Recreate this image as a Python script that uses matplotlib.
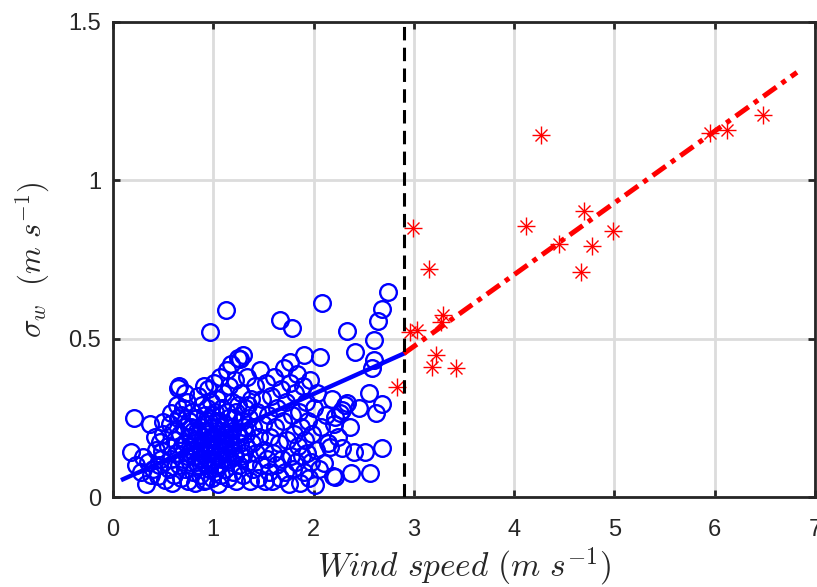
import numpy as np
import matplotlib
matplotlib.use("Agg")
import matplotlib.pyplot as plt

plt.rcParams['mathtext.fontset'] = 'cm'
plt.rcParams['font.family'] = ['Liberation Sans', 'DejaVu Sans']

# blue circles: wind speed below threshold (m/s), sigma_w (m/s)
low_wind = [
    0.18, 0.21, 0.23, 0.30, 0.33, 0.35, 0.37, 0.40, 0.43, 0.45, 0.47, 0.48, 0.50, 0.50, 0.52, 0.42, 0.38, 0.28, 0.46, 0.49,
    0.55, 0.56, 0.58, 0.58, 0.60, 0.61, 0.62, 0.63, 0.65, 0.66, 0.65, 0.66, 0.67, 0.68, 0.69, 0.70, 0.70, 0.71, 0.72, 0.73,
    0.74, 0.74, 0.75, 0.76, 0.77, 0.77, 0.78, 0.79, 0.80, 0.80, 0.57, 0.64, 0.59, 0.72, 0.68,
    0.815, 0.82, 0.83, 0.84, 0.85, 0.85, 0.86, 0.87, 0.88, 0.88, 0.89, 0.90, 0.90, 0.91, 0.92, 0.92, 0.93, 0.93, 0.94, 0.95,
    0.95, 0.96, 0.96, 0.97, 0.97, 0.98, 0.98, 0.99, 1.00, 1.00, 1.01, 1.01, 1.02, 1.02, 1.03, 1.04, 1.04, 1.05, 1.05, 1.06,
    1.06, 1.07, 1.07, 1.08, 1.08, 1.09, 1.09, 1.10, 1.10, 0.84, 0.91, 0.99, 1.03, 0.87, 0.94,
    1.11, 1.12, 1.13, 1.13, 1.14, 1.14, 1.15, 1.16, 1.16, 1.17, 1.18, 1.18, 1.19, 1.20, 1.20, 1.21, 1.22, 1.22, 1.23, 1.24,
    1.25, 1.25, 1.26, 1.27, 1.27, 1.28, 1.29, 1.30, 1.30, 1.31, 1.32, 1.33, 1.34, 1.35, 1.36, 1.37, 1.38, 1.39, 1.40, 1.40,
    1.42, 1.43, 1.44, 1.45, 1.46, 1.47, 1.48, 1.49, 1.50, 1.51, 1.52, 1.53, 1.54, 1.55, 1.56, 1.57, 1.58, 1.59, 1.60, 1.61,
    1.62, 1.63, 1.64, 1.665, 1.66, 1.67, 1.68, 1.69, 1.70, 1.71, 1.72, 1.73, 1.74, 1.75, 1.765, 1.76, 1.77, 1.78, 1.78, 1.79,
    1.80, 1.81, 1.82, 1.83, 1.84, 1.85, 1.86, 1.87, 1.88, 1.89, 1.90, 1.90, 1.91, 1.92, 1.93, 1.94, 1.95, 1.96, 1.97, 1.98,
    2.00, 2.01, 2.02, 2.03, 2.05, 2.06, 2.07, 2.08, 2.10, 2.12, 2.14, 2.16, 2.18, 2.196, 2.20,
    2.21, 2.21, 2.26, 2.28, 2.28, 2.31, 2.33, 2.33, 2.37, 2.40, 2.41, 2.51, 2.555, 2.56, 2.58, 2.60, 2.60, 2.62, 2.645, 2.68,
    2.68, 2.68, 2.745, 2.24, 2.36, 2.45,
    0.76, 0.78, 0.81, 0.83, 0.86, 0.89, 0.91, 0.93, 0.95, 0.97, 0.98, 1.00, 1.02, 1.03, 1.05, 1.06, 1.08, 1.10, 1.12, 1.14,
    1.15, 1.17, 1.19, 1.21, 1.23, 1.26, 1.28, 1.31, 1.33, 1.35,
]
low_sigma = [
    0.143, 0.25, 0.10, 0.127, 0.04, 0.111, 0.232, 0.09, 0.15, 0.065, 0.174, 0.12, 0.238, 0.20, 0.055, 0.19, 0.07, 0.08, 0.10, 0.145,
    0.16, 0.09, 0.264, 0.12, 0.21, 0.07, 0.18, 0.14, 0.343, 0.35, 0.25, 0.10, 0.20, 0.06, 0.16, 0.281, 0.12, 0.22, 0.09, 0.17,
    0.30, 0.13, 0.05, 0.24, 0.19, 0.11, 0.15, 0.27, 0.08, 0.21, 0.23, 0.29, 0.045, 0.33, 0.26,
    0.043, 0.13, 0.18, 0.25, 0.10, 0.32, 0.16, 0.07, 0.22, 0.14, 0.29, 0.11, 0.19, 0.05, 0.26, 0.15, 0.054, 0.21, 0.12, 0.34,
    0.17, 0.09, 0.24, 0.521, 0.14, 0.30, 0.19, 0.06, 0.22, 0.12, 0.16, 0.36, 0.27, 0.08, 0.20, 0.13, 0.31, 0.17, 0.04, 0.24,
    0.10, 0.38, 0.15, 0.21, 0.07, 0.28, 0.12, 0.18, 0.33, 0.21, 0.35, 0.26, 0.10, 0.12, 0.28,
    0.23, 0.09, 0.592, 0.15, 0.40, 0.27, 0.06, 0.19, 0.35, 0.12, 0.22, 0.42, 0.30, 0.08, 0.16, 0.25, 0.37, 0.13, 0.05, 0.20,
    0.29, 0.44, 0.10, 0.437, 0.17, 0.33, 0.24, 0.448, 0.07, 0.14, 0.28, 0.20, 0.38, 0.11, 0.25, 0.05, 0.31, 0.17, 0.22, 0.09,
    0.35, 0.14, 0.27, 0.06, 0.19, 0.40, 0.10, 0.31, 0.23, 0.15, 0.05, 0.36, 0.12, 0.26, 0.08, 0.19, 0.32, 0.05, 0.14, 0.38,
    0.22, 0.10, 0.28, 0.56, 0.17, 0.06, 0.34, 0.12, 0.24, 0.407, 0.08, 0.30, 0.18, 0.04, 0.427, 0.36, 0.13, 0.535, 0.26, 0.09,
    0.20, 0.33, 0.11, 0.39, 0.16, 0.27, 0.043, 0.22, 0.13, 0.35, 0.448, 0.08, 0.18, 0.30, 0.14, 0.24, 0.06, 0.37, 0.11, 0.20,
    0.28, 0.038, 0.15, 0.33, 0.09, 0.441, 0.22, 0.613, 0.106, 0.26, 0.17, 0.159, 0.31, 0.066, 0.232,
    0.253, 0.064, 0.264, 0.274, 0.154, 0.29, 0.296, 0.525, 0.075, 0.143, 0.458, 0.143, 0.329, 0.077, 0.406, 0.432, 0.497, 0.264, 0.556, 0.595,
    0.293, 0.154, 0.648, 0.19, 0.22, 0.28,
    0.14, 0.22, 0.17, 0.11, 0.20, 0.17, 0.23, 0.10, 0.20, 0.11, 0.16, 0.18, 0.14, 0.24, 0.20, 0.13, 0.18, 0.15, 0.20, 0.12,
    0.25, 0.17, 0.21, 0.14, 0.27, 0.19, 0.13, 0.22, 0.16, 0.29,
]

# red asterisks: wind speed above threshold
high_wind = [2.83, 2.96, 2.99, 3.03, 3.15, 3.18, 3.22, 3.27, 3.29, 3.42,
             4.12, 4.27, 4.45, 4.67, 4.70, 4.78, 4.99, 5.95, 6.12, 6.48]
high_sigma = [0.348, 0.521, 0.85, 0.527, 0.719, 0.411, 0.448, 0.553, 0.574, 0.406,
              0.855, 1.142, 0.800, 0.709, 0.902, 0.793, 0.839, 1.148, 1.158, 1.205]

# fitted lines and threshold
low_fit_x = [0.10, 2.90]
low_fit_y = [0.056, 0.453]
high_fit_x = [2.90, 6.82]
high_fit_y = [0.453, 1.341]
threshold = 2.9

fig = plt.figure(figsize=(8.17, 5.87), dpi=100)
ax = fig.add_axes([113 / 817, 90 / 587, 702 / 817, 475 / 587])

ax.plot(low_wind, low_sigma, 'o', ms=12, mfc='none', mec='#0000ff', mew=1.7, zorder=3)
ax.plot(high_wind, high_sigma, '+', ms=13, color='#ff0000', mew=1.0, zorder=3)
ax.plot(high_wind, high_sigma, 'x', ms=9, color='#ff0000', mew=1.0, zorder=3)

ax.plot(low_fit_x, low_fit_y, '-', color='#0000ff', lw=3.2, zorder=4)
ax.plot(high_fit_x, high_fit_y, color='#ff0000', lw=3.6, zorder=4,
        linestyle=(0, (3.2, 1.3, 1.0, 1.3)), dash_capstyle='butt')
ax.axvline(threshold, color='black', lw=2.2, linestyle=(0, (4.4, 2.4)), zorder=5)

ax.set_xlim(0, 7)
ax.set_ylim(0, 1.5)
ax.set_xticks(range(0, 8))
ax.set_yticks([0, 0.5, 1, 1.5])
ax.set_yticklabels(['0', '0.5', '1', '1.5'])
ax.grid(True, color='#dcdcdc', lw=2)
ax.set_axisbelow(True)

for s in ax.spines.values():
    s.set_linewidth(2)
    s.set_color('#262626')
ax.tick_params(direction='in', length=5, width=2, color='#262626', labelcolor='#262626',
               labelsize=17, top=True, right=True)
ax.tick_params(axis='x', pad=16)
ax.tick_params(axis='y', pad=8.5)

ax.set_xlabel(r'$Wind\ speed\ (m\ s^{-1})$', fontsize=24, color='#262626', va='center')
ax.set_ylabel(r'$\sigma_w\ \ (m\ s^{-1})$', fontsize=22, color='#262626', va='center')
ax.xaxis.set_label_coords(0.5, -0.147)
ax.yaxis.set_label_coords(-0.114, 0.5)

fig.savefig('out.png', dpi=100)
